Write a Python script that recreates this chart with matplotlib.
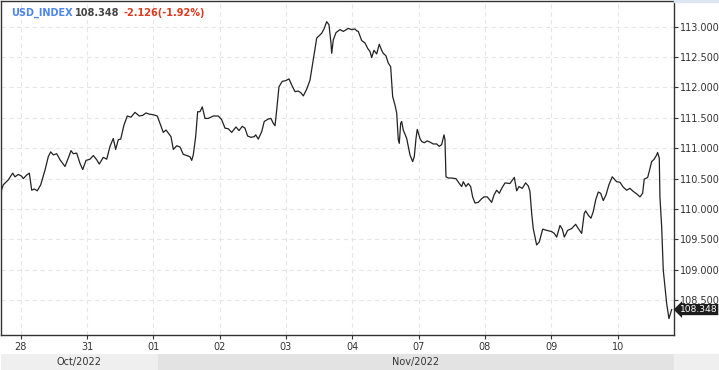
import matplotlib
matplotlib.use("Agg")
import matplotlib.pyplot as plt
from matplotlib.patches import Rectangle

# Trading-day position (0 = Oct 28, one unit per trading day) and index level
day_pos = [
    -0.297, -0.262, -0.187, -0.121, -0.086, -0.036, 0.015, 0.039, 0.090, 0.130,
    0.166, 0.205, 0.250, 0.302, 0.366, 0.416, 0.452, 0.492, 0.543, 0.593,
    0.668, 0.718, 0.758, 0.793, 0.844, 0.894, 0.935, 0.985, 1.045, 1.095,
    1.146, 1.185, 1.245, 1.297, 1.346, 1.396, 1.432, 1.471, 1.508, 1.557,
    1.607, 1.663, 1.723, 1.788, 1.839, 1.889, 1.939, 1.999, 2.059, 2.100,
    2.150, 2.191, 2.266, 2.301, 2.352, 2.402, 2.451, 2.503, 2.553,
    2.578, 2.602, 2.638, 2.668, 2.703, 2.738, 2.779, 2.828, 2.904, 2.979,
    3.030, 3.080, 3.130, 3.181, 3.246, 3.291, 3.341, 3.381, 3.422, 3.472,
    3.522, 3.543, 3.582, 3.633, 3.672, 3.733, 3.773, 3.808, 3.834, 3.860,
    3.894, 3.944, 3.995, 4.045, 4.086, 4.136, 4.185, 4.226, 4.261, 4.312,
    4.362, 4.411, 4.463, 4.538, 4.577, 4.613, 4.648, 4.678, 4.689, 4.713,
    4.754, 4.814, 4.864, 4.939, 4.990, 5.040, 5.066, 5.090, 5.141, 5.191,
    5.232, 5.266, 5.292, 5.326, 5.367, 5.406, 5.442, 5.467, 5.507, 5.542,
    5.578, 5.608, 5.643, 5.669, 5.693, 5.708, 5.729, 5.744, 5.768, 5.820,
    5.869, 5.910, 5.934, 5.960, 5.979, 6.020, 6.046, 6.085, 6.130, 6.171,
    6.221, 6.272, 6.311, 6.347, 6.382, 6.397, 6.412, 6.447, 6.498, 6.563,
    6.613, 6.649, 6.673, 6.713, 6.748, 6.784, 6.814, 6.849, 6.899, 6.950,
    6.985, 7.035, 7.065, 7.101, 7.136, 7.176, 7.216, 7.252, 7.302, 7.377,
    7.442, 7.478, 7.513, 7.562, 7.613, 7.653, 7.678, 7.704, 7.728, 7.779,
    7.819, 7.870, 7.930, 8.006, 8.045, 8.081, 8.131, 8.166, 8.196, 8.247,
    8.307, 8.367, 8.407, 8.458, 8.497, 8.518, 8.557, 8.598, 8.633, 8.669,
    8.708, 8.744, 8.783, 8.824, 8.869, 8.919, 8.985, 9.035, 9.085, 9.136,
    9.186, 9.236, 9.287, 9.337, 9.377, 9.401, 9.453, 9.477, 9.513, 9.552,
    9.588, 9.603, 9.628, 9.638, 9.664, 9.688, 9.739, 9.774, 9.804, 9.815,
]
usd_index = [
    110.29, 110.40, 110.48, 110.59, 110.53, 110.57, 110.54, 110.50, 110.56, 110.59,
    110.31, 110.33, 110.30, 110.40, 110.64, 110.86, 110.94, 110.89, 110.91, 110.81,
    110.70, 110.84, 110.96, 110.91, 110.92, 110.75, 110.65, 110.80, 110.82, 110.88,
    110.81, 110.74, 110.85, 110.82, 111.03, 111.16, 110.98, 111.14, 111.15, 111.38,
    111.53, 111.51, 111.59, 111.53, 111.54, 111.58, 111.56, 111.55, 111.53, 111.41,
    111.26, 111.30, 111.19, 110.98, 111.04, 111.02, 110.90, 110.88, 110.86,
    110.80, 110.89, 111.19, 111.60, 111.60, 111.68, 111.49, 111.49, 111.53, 111.53,
    111.47, 111.33, 111.32, 111.26, 111.35, 111.29, 111.36, 111.33, 111.20, 111.18,
    111.19, 111.22, 111.15, 111.27, 111.44, 111.48, 111.49, 111.41, 111.37, 111.63,
    112.01, 112.10, 112.11, 112.14, 112.04, 111.93, 111.94, 111.91, 111.86, 111.97,
    112.12, 112.45, 112.81, 112.89, 112.97, 113.08, 113.03, 112.73, 112.56, 112.78,
    112.90, 112.95, 112.92, 112.97, 112.95, 112.96, 112.93, 112.92, 112.77, 112.73,
    112.64, 112.59, 112.49, 112.61, 112.55, 112.71, 112.61, 112.56, 112.52, 112.40,
    112.34, 111.85, 111.71, 111.58, 111.14, 111.08, 111.41, 111.44, 111.30, 111.16,
    110.89, 110.78, 110.86, 111.16, 111.31, 111.16, 111.11, 111.09, 111.12, 111.10,
    111.07, 111.07, 111.03, 111.06, 111.22, 111.14, 110.53, 110.51, 110.51, 110.50,
    110.42, 110.37, 110.45, 110.37, 110.42, 110.37, 110.20, 110.10, 110.11, 110.17,
    110.20, 110.20, 110.16, 110.11, 110.23, 110.31, 110.26, 110.34, 110.43, 110.42,
    110.52, 110.30, 110.37, 110.34, 110.43, 110.38, 110.29, 109.93, 109.68, 109.41,
    109.46, 109.67, 109.65, 109.63, 109.60, 109.54, 109.73, 109.67, 109.54, 109.65,
    109.68, 109.75, 109.68, 109.60, 109.93, 109.97, 109.90, 109.85, 109.96, 110.15,
    110.28, 110.26, 110.14, 110.23, 110.40, 110.53, 110.45, 110.44, 110.36, 110.31,
    110.34, 110.29, 110.25, 110.20, 110.26, 110.49, 110.52, 110.62, 110.78, 110.82,
    110.89, 110.93, 110.84, 110.20, 109.71, 109.00, 108.45, 108.20, 108.31, 108.348,
]

day_labels = ["28", "31", "01", "02", "03", "04", "07", "08", "09", "10"]
price_ticks = [108.5, 109.0, 109.5, 110.0, 110.5, 111.0, 111.5, 112.0, 112.5, 113.0]

months = ["Oct/2022", "Nov/2022"]
month_edges = [-0.297, 2.07, 9.85]
month_colors = ["#efefef", "#e3e3e3"]

symbol = "USD_INDEX"
last_price = "108.348"
change = "-2.126(-1.92%)"

W, H = 719, 370
fig = plt.figure(figsize=(W / 100, H / 100), dpi=100, facecolor="white")

# Main price panel (pixel box 1..674 x 1..335)
ax = fig.add_axes([1 / W, (H - 335) / H, 673 / W, 334 / H])
ax.plot(day_pos, usd_index, color="#222222", linewidth=0.9)

ax.set_xlim(-0.297, 9.85)
ax.set_ylim(107.93, 113.42)

ax.set_xticks(range(len(day_labels)))
ax.set_xticklabels(day_labels)
ax.set_yticks(price_ticks)
ax.set_yticklabels([f"{v:.3f}" for v in price_ticks])

ax.tick_params(axis="y", left=False, right=True, labelleft=False, labelright=True,
               length=3, width=0.8, pad=1, labelsize=7, colors="#333333")
ax.tick_params(axis="x", length=3, width=0.8, pad=2, labelsize=7, colors="#333333")

ax.grid(True, color="#e6e6e6", linewidth=0.8, linestyle=(0, (4, 3)))
for sp in ax.spines.values():
    sp.set_color("#333333")
    sp.set_linewidth(1.0)

# Header text
fig.text(11 / W, 1 - 13 / H, symbol, color="#4f86ec", fontsize=7,
         fontweight="bold", va="center", ha="left")
fig.text(75 / W, 1 - 13 / H, last_price, color="#444444", fontsize=7,
         fontweight="bold", va="center", ha="left")
fig.text(124 / W, 1 - 13 / H, change, color="#e0391f", fontsize=7,
         fontweight="bold", va="center", ha="left")

# Last price marker on the right axis
ax.annotate(last_price, xy=(1.0, usd_index[-1]),
            xycoords=ax.get_yaxis_transform(),
            xytext=(4, 0), textcoords="offset points",
            ha="left", va="center", fontsize=6.6, color="white",
            bbox=dict(boxstyle="larrow,pad=0.12", fc="#1c1c1c", ec="none"),
            annotation_clip=False, zorder=5)

# Month band along the bottom
band = fig.add_axes([1 / W, 0, 673 / W, 16 / H], sharex=ax)
band.set_ylim(0, 1)
for i, name in enumerate(months):
    band.axvspan(month_edges[i], month_edges[i + 1], color=month_colors[i], lw=0)
    band.text((month_edges[i] + month_edges[i + 1]) / 2, 0.5, name,
              ha="center", va="center", fontsize=7, color="#333333")
band.axis("off")
fig.patches.append(Rectangle((674 / W, 0), 45 / W, 16 / H, transform=fig.transFigure,
                             color="#efefef", zorder=0))
fig.patches.append(Rectangle((674 / W, 1 - 2 / H), 45 / W, 2 / H, transform=fig.transFigure,
                             color="#dce6f2", zorder=0))

fig.savefig("out.png", dpi=100, facecolor="white")
